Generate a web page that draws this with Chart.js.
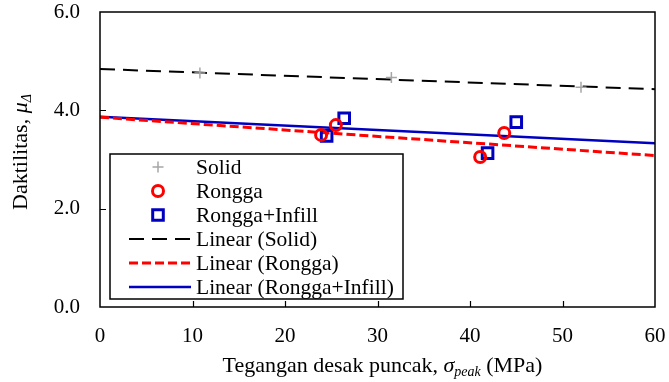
<!DOCTYPE html>
<html>
<head>
<meta charset="utf-8">
<script src="https://cdn.jsdelivr.net/npm/chart.js@4/dist/chart.umd.min.js"></script>
<style>
  html, body { margin: 0; padding: 0; background: #fff; }
  #wrap { width: 669px; height: 382px; }
</style>
</head>
<body>
<div id="wrap"><canvas id="chart" width="669" height="382"></canvas></div>
<script>
"use strict";

// Measured points (x = peak stress in MPa, y = ductility)
var solidX = [10.8, 31.5, 52.0];
var solidY = [4.76, 4.67, 4.47];
var ronggaX = [23.9, 25.5, 41.1, 43.7];
var ronggaY = [3.50, 3.70, 3.05, 3.54];
var infillX = [24.5, 26.4, 41.9, 45.0];
var infillY = [3.48, 3.84, 3.13, 3.76];

// Linear trend lines, value at x = 0 and x = 60
var trendX = [0, 60];
var solidTrend = [4.84, 4.43];
var ronggaTrend = [3.86, 3.08];
var infillTrend = [3.87, 3.33];

var xTicks = [0, 10, 20, 30, 40, 50, 60];
var yTicks = [0, 2, 4, 6];

var FONT = "'Liberation Serif', 'Times New Roman', serif";
var GRAY = "#a6a6a6";
var RED = "#ff0000";
var BLUE = "#0000c0";

function toPoints(xs, ys) {
    var out = [];
    for (var i = 0; i < xs.length; i++) {
        out.push({ x: xs[i], y: ys[i] });
    }
    return out;
}

// draws "main" + italic symbol + italic subscript (+ tail), centred on 0
function richTitle(ctx, main, sym, sub, tail, size, y) {
    var subSize = Math.round(size * 0.65);
    ctx.font = size + "px " + FONT;
    var w1 = ctx.measureText(main).width;
    var w4 = ctx.measureText(tail).width;
    ctx.font = "italic " + size + "px " + FONT;
    var w2 = ctx.measureText(sym).width;
    ctx.font = "italic " + subSize + "px " + FONT;
    var w3 = ctx.measureText(sub).width;
    var x = -(w1 + w2 + w3 + w4) / 2;
    ctx.textAlign = "left";
    ctx.textBaseline = "alphabetic";
    ctx.font = size + "px " + FONT;
    ctx.fillText(main, x, y);
    x += w1;
    ctx.font = "italic " + size + "px " + FONT;
    ctx.fillText(sym, x, y);
    x += w2;
    ctx.font = "italic " + subSize + "px " + FONT;
    ctx.fillText(sub, x, y + 4);
    x += w3;
    if (tail) {
        ctx.font = size + "px " + FONT;
        ctx.fillText(tail, x, y);
    }
}

// frame, inward tick marks, axis titles and the boxed legend
var decorations = {
    id: "decorations",
    afterDraw: function(chart) {
        var ctx = chart.ctx;
        var area = chart.chartArea;
        var xs = chart.scales.x;
        var ys = chart.scales.y;
        var i;

        ctx.save();
        ctx.strokeStyle = "#000";
        ctx.lineWidth = 1.5;
        ctx.strokeRect(area.left, area.top, area.right - area.left, area.bottom - area.top);

        ctx.beginPath();
        for (i = 1; i < xTicks.length - 1; i++) {
            var px = Math.round(xs.getPixelForValue(xTicks[i])) + 0.5;
            ctx.moveTo(px, area.bottom);
            ctx.lineTo(px, area.bottom - 6);
        }
        for (i = 1; i < yTicks.length - 1; i++) {
            var py = Math.round(ys.getPixelForValue(yTicks[i])) + 0.5;
            ctx.moveTo(area.left, py);
            ctx.lineTo(area.left + 6, py);
        }
        ctx.lineWidth = 1.2;
        ctx.stroke();

        ctx.fillStyle = "#000";

        // x title
        ctx.save();
        ctx.translate((area.left + area.right) / 2 + 5, 0);
        richTitle(ctx, "Tegangan desak puncak, ", "\u03c3", "peak", " (MPa)", 22, 372);
        ctx.restore();

        // y title, rotated
        ctx.save();
        ctx.translate(27, 152);
        ctx.rotate(-Math.PI / 2);
        richTitle(ctx, "Daktilitas, ", "\u03bc", "\u0394", "", 22, 0);
        ctx.restore();

        // legend
        var lx = 110, ly = 154, lw = 293, lh = 145;
        ctx.fillStyle = "#fff";
        ctx.fillRect(lx, ly, lw, lh);
        ctx.strokeStyle = "#000";
        ctx.lineWidth = 1.5;
        ctx.strokeRect(lx, ly, lw, lh);

        var sets = chart.data.datasets;
        ctx.font = "21.5px " + FONT;
        ctx.textAlign = "left";
        ctx.textBaseline = "middle";
        for (i = 0; i < sets.length; i++) {
            var ds = sets[i];
            var rowY = 167 + i * 24;
            if (ds.showLine === false) {
                ctx.save();
                ctx.strokeStyle = ds.borderColor;
                ctx.fillStyle = ds.backgroundColor;
                ctx.lineWidth = ds.borderWidth;
                Chart.helpers.drawPoint(ctx, {
                    pointStyle: ds.pointStyle,
                    radius: ds.pointRadius,
                    rotation: 0,
                    borderWidth: ds.borderWidth
                }, 158, rowY);
                ctx.restore();
            } else {
                ctx.save();
                ctx.strokeStyle = ds.borderColor;
                ctx.lineWidth = ds.borderWidth;
                ctx.setLineDash(ds.borderDash || []);
                ctx.beginPath();
                ctx.moveTo(129, rowY);
                ctx.lineTo(191, rowY);
                ctx.stroke();
                ctx.restore();
            }
            ctx.fillStyle = "#000";
            ctx.fillText(ds.label, 196, rowY + 1);
        }
        ctx.restore();
    }
};

new Chart(document.getElementById("chart"), {
    type: "scatter",
    data: {
        datasets: [{
            label: "Solid",
            data: toPoints(solidX, solidY),
            showLine: false,
            pointStyle: "cross",
            pointRadius: 5.5,
            borderColor: GRAY,
            backgroundColor: GRAY,
            borderWidth: 1.5
        }, {
            label: "Rongga",
            data: toPoints(ronggaX, ronggaY),
            showLine: false,
            pointStyle: "circle",
            pointRadius: 5.5,
            borderColor: RED,
            backgroundColor: "rgba(255,255,255,0)",
            borderWidth: 3
        }, {
            label: "Rongga+Infill",
            data: toPoints(infillX, infillY),
            showLine: false,
            pointStyle: "rect",
            pointRadius: 7.5,
            borderColor: BLUE,
            backgroundColor: "rgba(255,255,255,0)",
            borderWidth: 3
        }, {
            label: "Linear (Solid)",
            data: toPoints(trendX, solidTrend),
            showLine: true,
            pointRadius: 0,
            borderColor: "#000",
            borderWidth: 2,
            borderDash: [15, 8]
        }, {
            label: "Linear (Rongga)",
            data: toPoints(trendX, ronggaTrend),
            showLine: true,
            pointRadius: 0,
            borderColor: RED,
            borderWidth: 3,
            borderDash: [9, 4]
        }, {
            label: "Linear (Rongga+Infill)",
            data: toPoints(trendX, infillTrend),
            showLine: true,
            pointRadius: 0,
            borderColor: BLUE,
            borderWidth: 2.5
        }]
    },
    options: {
        responsive: false,
        animation: false,
        layout: { padding: { top: 12, right: 14, left: 0, bottom: 0 } },
        plugins: {
            legend: { display: false },
            tooltip: { enabled: false }
        },
        scales: {
            x: {
                type: "linear",
                min: 0,
                max: 60,
                afterBuildTicks: function(scale) {
                    scale.ticks = xTicks.map(function(v) { return { value: v }; });
                },
                grid: { display: false, drawTicks: false },
                border: { display: false },
                ticks: {
                    color: "#000",
                    padding: 17,
                    font: { family: FONT, size: 21 },
                    maxRotation: 0,
                    callback: function(v) { return String(v); }
                },
                afterFit: function(scale) {
                    scale.height = 75;
                    scale.paddingLeft = 0;
                    scale.paddingRight = 0;
                }
            },
            y: {
                type: "linear",
                min: 0,
                max: 6,
                afterBuildTicks: function(scale) {
                    scale.ticks = yTicks.map(function(v) { return { value: v }; });
                },
                grid: { display: false, drawTicks: false },
                border: { display: false },
                ticks: {
                    color: "#000",
                    padding: 20,
                    font: { family: FONT, size: 21 },
                    callback: function(v) { return v.toFixed(1); }
                },
                afterFit: function(scale) {
                    scale.width = 100;
                    scale.paddingTop = 0;
                    scale.paddingBottom = 0;
                }
            }
        }
    },
    plugins: [decorations]
});
</script>
</body>
</html>
